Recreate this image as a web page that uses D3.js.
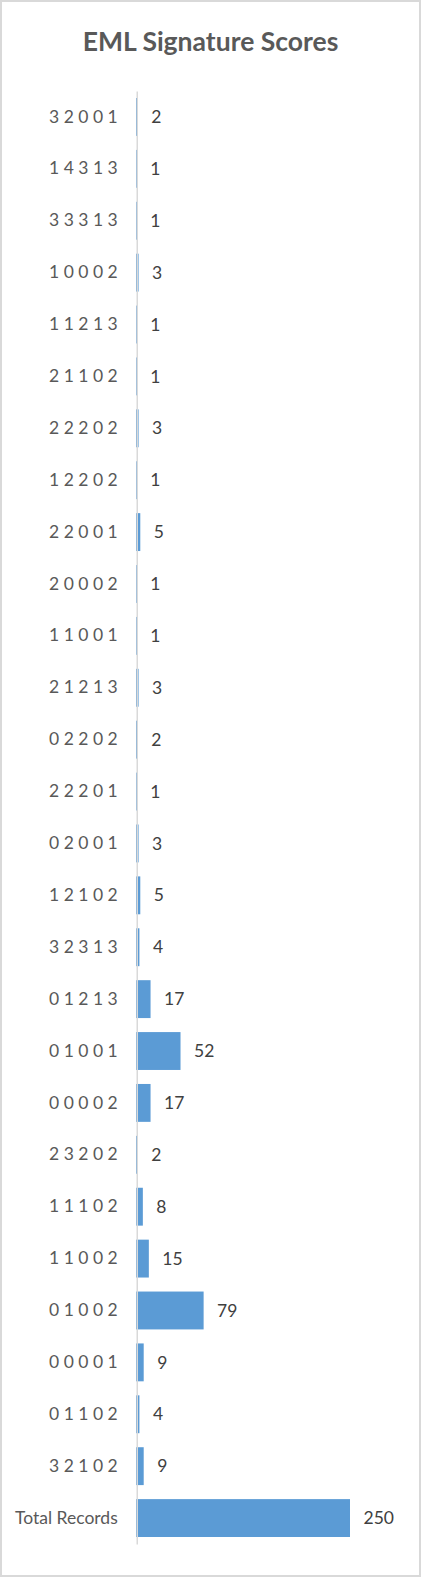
<!DOCTYPE html>
<html><head><meta charset="utf-8">
<script src="https://cdn.jsdelivr.net/npm/d3@7"></script>
<style>body{margin:0;background:#fff}svg{display:block}</style>
</head><body>
<script>
const categories = ["3 2 0 0 1","1 4 3 1 3","3 3 3 1 3","1 0 0 0 2","1 1 2 1 3","2 1 1 0 2","2 2 2 0 2","1 2 2 0 2","2 2 0 0 1","2 0 0 0 2","1 1 0 0 1","2 1 2 1 3","0 2 2 0 2","2 2 2 0 1","0 2 0 0 1","1 2 1 0 2","3 2 3 1 3","0 1 2 1 3","0 1 0 0 1","0 0 0 0 2","2 3 2 0 2","1 1 1 0 2","1 1 0 0 2","0 1 0 0 2","0 0 0 0 1","0 1 1 0 2","3 2 1 0 2","Total Records"];
const values = [2,1,1,3,1,1,3,1,5,1,1,3,2,1,3,5,4,17,52,17,2,8,15,79,9,4,9,250];
const title = "EML Signature Scores";

const W = 421, H = 1577;
const font = "Lato, 'Open Sans', sans-serif";
const svg = d3.select("body").append("svg").attr("width", W).attr("height", H);
svg.append("rect").attr("x",1).attr("y",1).attr("width",W-2).attr("height",H-2)
  .attr("fill","#fff").attr("stroke","#d9d9d9").attr("stroke-width",2);

svg.append("text").attr("x", W/2).attr("y", 42).attr("dy","0.35em")
  .attr("text-anchor","middle").attr("font-family",font).attr("font-weight","bold")
  .attr("font-size",26.5).attr("fill","#595959").text(title);

const x = d3.scaleLinear().domain([0,250]).range([136,350]);
const y = d3.scaleBand().domain(categories).range([91,1544]).paddingInner(0.27).paddingOuter(0.135);

const data = categories.map((c,i)=>({c, v: values[i]}));

svg.append("g").selectAll("rect").data(data).join("rect")
  .attr("x", x(0)).attr("y", d=>y(d.c)).attr("width", d=>x(d.v)-x(0)).attr("height", y.bandwidth())
  .attr("fill","#5b9bd5");

// category axis
const yAxis = d3.axisLeft(y).tickSize(0).tickPadding(19);
const ga = svg.append("g").attr("transform",`translate(${x(0)+0.75},0)`).call(yAxis);
ga.select(".domain").attr("stroke","#d9d9d9").attr("stroke-width",1.5);
ga.selectAll("text").attr("font-family",font).attr("font-size",17.5).attr("fill","#595959");

svg.append("g").selectAll("text").data(data).join("text")
  .attr("x", d=>x(d.v)+13.5).attr("y", d=>y(d.c)+y.bandwidth()/2).attr("dy","0.35em")
  .attr("font-family",font).attr("font-size",17.5).attr("fill","#404040")
  .text(d=>d.v);
</script>
</body></html>
